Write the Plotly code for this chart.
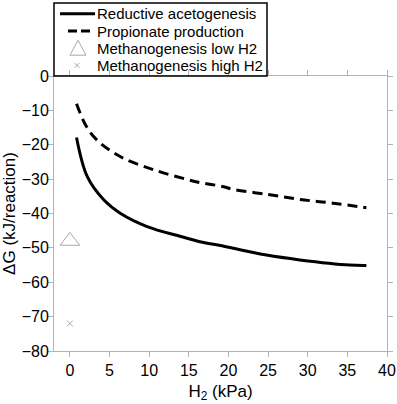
import plotly.graph_objects as go

# Data
h2_acet = [0.84, 2.2, 4.3, 6.4, 9.75, 14.0, 16.4, 19.4, 20.6, 24.8, 29.0, 35.3, 37.4]
dg_acet = [-17.9, -29.3, -36.1, -40.0, -43.8, -46.7, -48.2, -49.5, -50.1, -52.1, -53.5, -55.0, -55.1]

h2_prop = [0.84, 2.0, 3.4, 6.4, 10.6, 14.8, 16.4, 19.4, 20.6, 24.8, 29.0, 33.2, 37.4]
dg_prop = [-8.1, -14.3, -18.6, -23.5, -27.3, -30.1, -31.0, -32.2, -33.0, -34.4, -35.9, -37.0, -38.3]

h2_low = [0]
dg_low = [-48]
h2_high = [0]
dg_high = [-72]

series_names = ["Reductive acetogenesis", "Propionate production",
                "Methanogenesis low H2", "Methanogenesis high H2"]

FONT = "Arial, Liberation Sans, sans-serif"
AXC = "#b3b3b3"
MARKC = "#a8a8a8"

fig = go.Figure()
fig.add_trace(go.Scatter(x=h2_acet, y=dg_acet, mode="lines", name=series_names[0],
                         line=dict(color="black", width=3, shape="spline"), showlegend=False))
fig.add_trace(go.Scatter(x=h2_prop, y=dg_prop, mode="lines", name=series_names[1],
                         line=dict(color="black", width=3, dash="10px,6px", shape="spline"),
                         showlegend=False))
fig.add_trace(go.Scatter(x=h2_low, y=dg_low, mode="markers", name=series_names[2],
                         marker=dict(symbol="triangle-up-open", size=17, color=MARKC,
                                     line=dict(width=1, color=MARKC)), showlegend=False))
fig.add_trace(go.Scatter(x=h2_high, y=dg_high, mode="markers", name=series_names[3],
                         marker=dict(symbol="x-thin-open", size=6, color=MARKC,
                                     line=dict(width=1, color=MARKC)), showlegend=False))

# ---- legend drawn in paper space (compact row spacing like the reference) ----
L, T, W, H = 54, 76, 333, 275          # plot area in px
def px(xp):
    return (xp - L) / W
def py(yp):
    return (T + H - yp) / H

row_y = [13.8, 31.0, 48.2, 65.4]
shapes = [
    dict(type="rect", xref="paper", yref="paper", x0=px(54), x1=px(267), y0=py(76), y1=py(3),
         line=dict(color="black", width=1.5), fillcolor="rgba(0,0,0,0)", layer="above"),
    dict(type="line", xref="paper", yref="paper", x0=px(60), x1=px(95), y0=py(row_y[0]), y1=py(row_y[0]),
         line=dict(color="black", width=3)),
    dict(type="line", xref="paper", yref="paper", x0=px(68), x1=px(90), y0=py(row_y[1]), y1=py(row_y[1]),
         line=dict(color="black", width=3, dash="9px,4px")),
    dict(type="path", xref="paper", yref="paper",
         path=f"M {px(70)} {py(row_y[2] + 7)} L {px(86)} {py(row_y[2] + 7)} L {px(78)} {py(row_y[2] - 8)} Z",
         line=dict(color=MARKC, width=1)),
    dict(type="line", xref="paper", yref="paper", x0=px(74.5), x1=px(79.5),
         y0=py(row_y[3] - 2.5), y1=py(row_y[3] + 2.5), line=dict(color=MARKC, width=1)),
    dict(type="line", xref="paper", yref="paper", x0=px(74.5), x1=px(79.5),
         y0=py(row_y[3] + 2.5), y1=py(row_y[3] - 2.5), line=dict(color=MARKC, width=1)),
]
annotations = [
    dict(text=name, xref="paper", yref="paper", x=px(96), y=py(yy), xanchor="left", yanchor="middle",
         showarrow=False, borderpad=0, font=dict(size=15, color="black", family=FONT))
    for name, yy in zip(series_names, row_y)
]

fig.update_layout(
    width=397, height=404,
    margin=dict(l=54, r=10, t=76, b=53, autoexpand=False),
    paper_bgcolor="white", plot_bgcolor="white",
    font=dict(family=FONT, size=16, color="black"),
    showlegend=False,
    shapes=shapes, annotations=annotations,
)
fig.update_xaxes(range=[-2, 40], tickvals=[0, 5, 10, 15, 20, 25, 30, 35, 40],
                 showgrid=False, zeroline=False, showline=True, linecolor=AXC, linewidth=1,
                 ticks="outside", ticklen=5, tickcolor=AXC, mirror="ticks",
                 tickfont=dict(size=16),
                 title=dict(text="H<sub>2</sub> (kPa)", font=dict(size=17), standoff=6))
fig.update_yaxes(range=[-80, 0], tickvals=[-80, -70, -60, -50, -40, -30, -20, -10, 0],
                 showgrid=False, zeroline=False, showline=True, linecolor=AXC, linewidth=1,
                 ticks="outside", ticklen=5, tickcolor=AXC, mirror="ticks",
                 tickfont=dict(size=16), ticklabelstandoff=-4,
                 title=dict(text="ΔG (kJ/reaction)", font=dict(size=17), standoff=6))

fig.write_html("out.html", config={"displayModeBar": False},
               post_script="document.body.style.margin='0';document.body.style.overflow='hidden';")
